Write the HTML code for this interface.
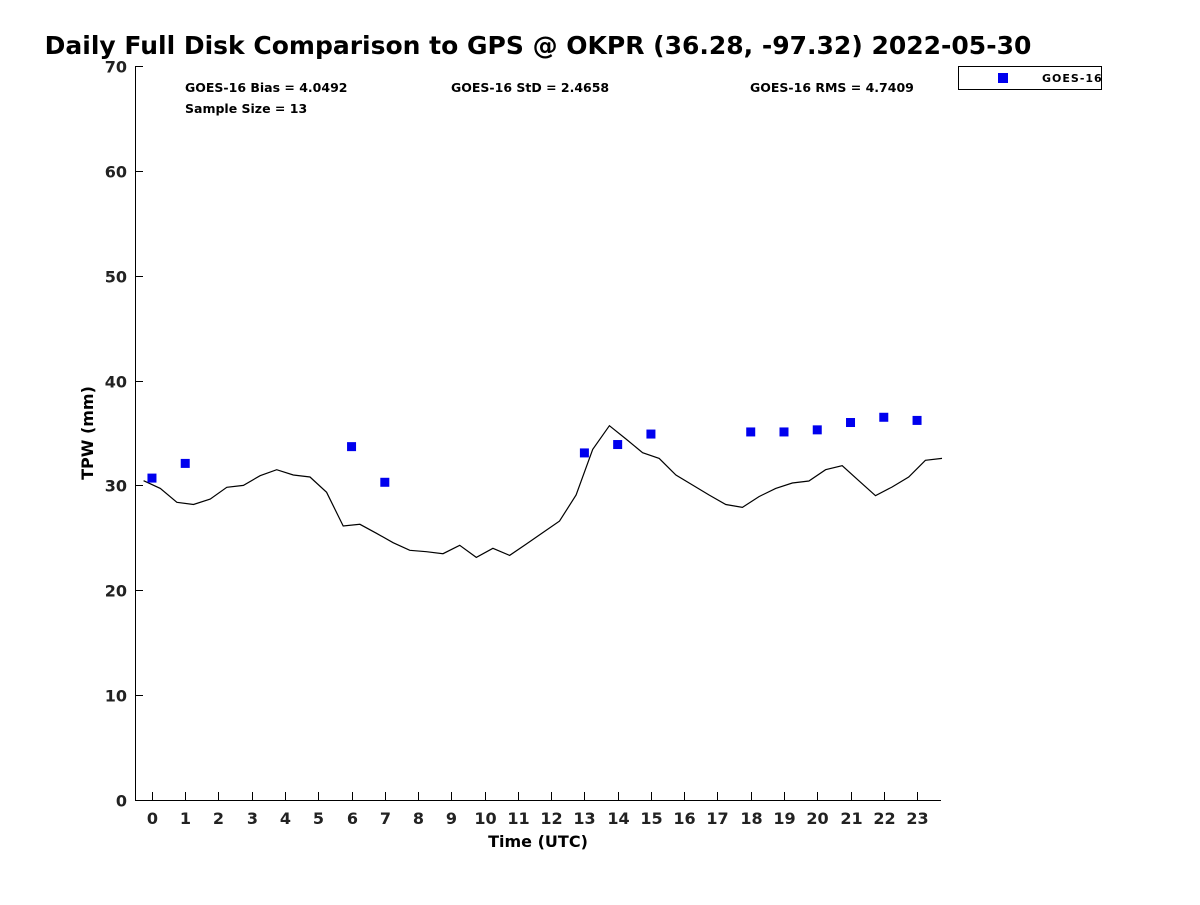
<!DOCTYPE html>
<html><head><meta charset="utf-8"><style>
body{margin:0;background:#fff;}
svg text{font-family:"DejaVu Sans","Liberation Sans",sans-serif;font-weight:bold;}
</style></head><body>
<svg id="chart" width="1200" height="900" xmlns="http://www.w3.org/2000/svg">
<rect width="1200" height="900" fill="#fff"/>
<text x="538" y="54" font-size="25" text-anchor="middle" fill="#000">Daily Full Disk Comparison to GPS @ OKPR (36.28, -97.32) 2022-05-30</text>
<g id="axes"></g>
<path id="gps-line" fill="none" stroke="#000" stroke-width="1.2"/>
<g id="points"></g>
<text x="185" y="92" font-size="12.5">GOES-16 Bias = 4.0492</text>
<text x="185" y="113" font-size="12.5">Sample Size = 13</text>
<text x="451" y="92" font-size="12.5">GOES-16 StD = 2.4658</text>
<text x="750" y="92" font-size="12.5">GOES-16 RMS = 4.7409</text>
<g>
<rect x="958.5" y="66.5" width="143" height="23" fill="#fff" stroke="#000" stroke-width="1"/>
<rect x="998" y="73" width="10" height="10" fill="#0000ee"/>
<text x="1042" y="82" font-size="11" letter-spacing="1">GOES-16</text>
</g>
<text x="538" y="847" font-size="16" text-anchor="middle">Time (UTC)</text>
<text transform="translate(93,433) rotate(-90)" font-size="16" text-anchor="middle">TPW (mm)</text>
</svg>
<script>
const gpsTimes = [-0.25,0.25,0.75,1.25,1.75,2.25,2.75,3.25,3.75,4.25,4.75,5.25,5.75,6.25,6.75,7.25,7.75,8.25,8.75,9.25,9.75,10.25,10.75,11.25,11.75,12.25,12.75,13.25,13.75,14.25,14.75,15.25,15.75,16.25,16.75,17.25,17.75,18.25,18.75,19.25,19.75,20.25,20.75,21.25,21.75,22.25,22.75,23.25,23.75];
const gpsValues = [30.45,29.72,28.39,28.18,28.7,29.82,30.0,30.93,31.5,30.99,30.8,29.34,26.13,26.29,25.43,24.54,23.81,23.68,23.49,24.29,23.14,24.0,23.33,24.4,25.5,26.6,29.09,33.44,35.7,34.43,33.12,32.58,30.99,30.04,29.09,28.18,27.9,28.93,29.72,30.23,30.42,31.5,31.88,30.45,29.02,29.85,30.8,32.4,32.58];
const goesHours = [0,1,6,7,13,14,15,18,19,20,21,22,23];
const goesValues = [30.7,32.1,33.7,30.3,33.1,33.9,34.9,35.1,35.1,35.3,36.0,36.5,36.2];
const yTicks = [0,10,20,30,40,50,60,70];
const xTicks = [0,1,2,3,4,5,6,7,8,9,10,11,12,13,14,15,16,17,18,19,20,21,22,23];

const NS="http://www.w3.org/2000/svg";
const L=135,R=941,T=66,B=800;
const xMin=-0.51,xMax=23.72,yMin=0,yMax=70;
const xs=v=>L+(v-xMin)/(xMax-xMin)*(R-L);
const ys=v=>B-(v-yMin)/(yMax-yMin)*(B-T);
function mk(tag,attrs,parent){const e=document.createElementNS(NS,tag);for(const k in attrs)e.setAttribute(k,attrs[k]);parent.appendChild(e);return e;}
const axes=document.getElementById('axes');
const ya=mk('line',{x1:L+0.5,y1:T,x2:L+0.5,y2:B,stroke:'#000'},axes);


const xa=mk('line',{x1:L,y1:B+0.5,x2:R,y2:B+0.5,stroke:'#000'},axes);


yTicks.forEach(v=>{
  const y=Math.round(ys(v))+0.5;
  mk('line',{x1:L,y1:y,x2:L+8,y2:y,stroke:'#000'},axes);
  const t=mk('text',{x:L-8,y:y+6,'font-size':16,'text-anchor':'end',fill:'#222'},axes);
  t.textContent=v;
  
  
});
xTicks.forEach(v=>{
  const x=Math.round(xs(v))+0.5;
  mk('line',{x1:x,y1:B,x2:x,y2:B-8,stroke:'#000'},axes);
  const t=mk('text',{x:x,y:B+24,'font-size':16,'text-anchor':'middle',fill:'#222'},axes);
  t.textContent=v;
  
  
});
document.getElementById('gps-line').setAttribute('d',gpsTimes.map((t,i)=>(i?'L':'M')+xs(t).toFixed(1)+','+ys(gpsValues[i]).toFixed(1)).join(' '));
const pts=document.getElementById('points');
goesHours.forEach((h,i)=>{
  const r=mk('rect',{x:xs(h)-4.5,y:ys(goesValues[i])-4.5,width:9,height:9,fill:'#0000ee'},pts);
  
  
});
</script>
</body></html>
